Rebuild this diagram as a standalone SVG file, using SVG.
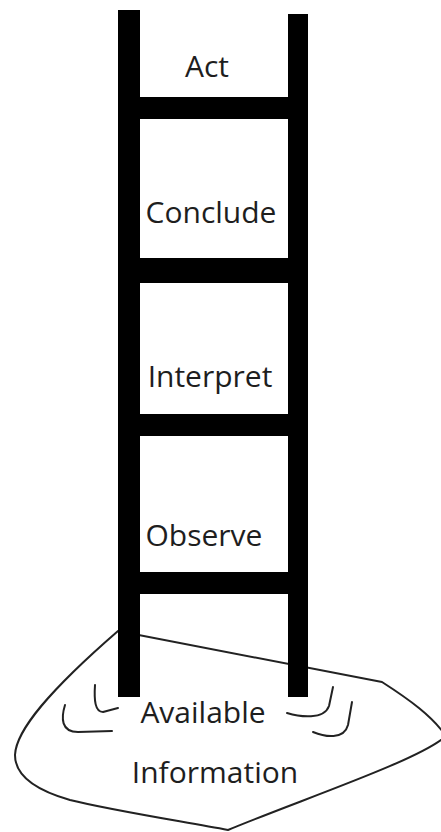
<svg xmlns="http://www.w3.org/2000/svg" width="441" height="832" viewBox="0 0 441 832">
  <style>
    .outline { fill: none; stroke: #222; stroke-width: 2; stroke-linecap: round; stroke-linejoin: round; }
    .rail { fill: #000; }
    .label { font-family: "Open Sans", "Liberation Sans", sans-serif; font-size: 30px; fill: #1e1e1e; text-anchor: middle; }
  </style>
  <rect width="441" height="832" fill="#fff"/>

  <!-- ground: pool of available information -->
  <g id="pool">
    <path class="outline" d="M118,631 L382,682 C410,700 432,716 446,736 C420,760 300,800 228,830 C180,821 110,810 70,800 C35,790 15,775 15,755 C16,730 50,690 118,631 Z"/>
    <path class="outline" d="M95,685 C94,700 95,712 103,712 L118,708"/>
    <path class="outline" d="M65,705 C61,718 61,732 78,732 L112,731"/>
    <path class="outline" d="M287,713 C300,717 324,720 329,706 L333,687"/>
    <path class="outline" d="M313,732 C325,737 344,740 348,725 L352,702"/>
  </g>

  <!-- ladder -->
  <g id="ladder">
    <rect class="rail" x="118" y="10" width="22" height="687"/>
    <rect class="rail" x="288" y="14" width="20" height="683"/>
    <rect class="rail" x="140" y="97" width="148" height="22"/>
    <rect class="rail" x="140" y="258" width="148" height="25"/>
    <rect class="rail" x="140" y="414" width="148" height="22"/>
    <rect class="rail" x="140" y="572" width="148" height="22"/>
  </g>

  <g id="act"><text class="label" x="207" y="77">Act</text></g>
  <g id="conclude"><text class="label" x="211" y="223">Conclude</text></g>
  <g id="interpret"><text class="label" x="210" y="387">Interpret</text></g>
  <g id="observe"><text class="label" x="204" y="546">Observe</text></g>
  <g id="available-information">
    <text class="label" x="203" y="723">Available</text>
    <text class="label" x="215" y="783">Information</text>
  </g>
</svg>
